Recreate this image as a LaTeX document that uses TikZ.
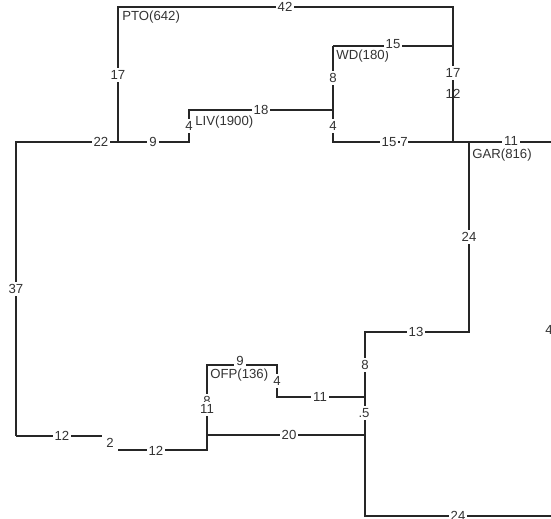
\documentclass[tikz,border=0pt]{standalone}
\usepackage{fontspec}
\setmainfont{Liberation Sans}
\usetikzlibrary{positioning}

\tikzset{
  wire/.style={line width=0.6pt, black!85},
  lenlbl/.style={fill=white, inner sep=1.2pt, text=black!80, font=\fontsize{7.5}{8}\selectfont},
  roomlbl/.style={anchor=west, inner sep=0pt, text=black!80, font=\fontsize{7.5}{8}\selectfont},
}

\begin{document}
\begin{tikzpicture}[x=0.02cm, y=-0.02cm]
    \useasboundingbox (0,0) rectangle (551,519);

    % Junctions
    \coordinate (ptoTL) at (118,7);
    \coordinate (ptoTR) at (453,7);
    \coordinate (ptoB) at (118,142);
    \coordinate (westT) at (16,142);
    \coordinate (westB) at (16,436);
    \coordinate (livB) at (189,142);
    \coordinate (livT) at (189,110);
    \coordinate (wdM) at (333,110);
    \coordinate (wdT) at (333,46);
    \coordinate (wdB) at (333,142);
    \coordinate (wdR) at (453,46);
    \coordinate (hub) at (453,142);
    \coordinate (garL) at (469,142);
    \coordinate (garR) at (551,142);
    \coordinate (garB) at (469,332);
    \coordinate (ofpT) at (365,332);
    \coordinate (ofpJa) at (365,397);
    \coordinate (ofpJb) at (365,435);
    \coordinate (ofpB) at (365,516);
    \coordinate (eastB) at (551,516);
    \coordinate (ofpA) at (277,397);
    \coordinate (ofpC) at (277,365);
    \coordinate (ofpD) at (207,365);
    \coordinate (ofpE) at (207,435);
    \coordinate (ofpF) at (207,450);
    \coordinate (stepT) at (112,436);
    \coordinate (stepB) at (112,450);

    % Wires
    \draw[wire] (ptoB) -- (ptoTL) -- (ptoTR) -- (hub);
    \draw[wire] (westB) -- (westT) -- (livB) -- (livT) -- (wdM);
    \draw[wire] (wdT) -- (wdB) -- (hub) -- (garR);
    \draw[wire] (wdT) -- (wdR);
    \draw[wire] (garL) -- (garB) -- (ofpT) -- (ofpB) -- (eastB);
    \draw[wire] (ofpJa) -- (ofpA) -- (ofpC) -- (ofpD) -- (ofpF) -- (stepB) -- (stepT) -- (westB);
    \draw[wire] (ofpE) -- (ofpJb);

    % Rooms
    \node[roomlbl] (pto) at (122,17) {PTO(642)};
    \node[roomlbl] (liv) at (195,122) {LIV(1900)};
    \node[roomlbl] (wd) at (336,56) {WD(180)};
    \node[roomlbl] (gar) at (472,155) {GAR(816)};
    \node[roomlbl] (ofp) at (210,375) {OFP(136)};

    % Lengths
    \node[lenlbl] (l42) at (285,7) {42};
    \node[lenlbl] (l17a) at (118,75) {17};
    \node[lenlbl] (l22) at (101,142) {22};
    \node[lenlbl] (l9a) at (153,142) {9};
    \node[lenlbl] (l4a) at (189,126) {4};
    \node[lenlbl] (l18) at (261,110) {18};
    \node[lenlbl] (l8a) at (333,78) {8};
    \node[lenlbl] (l4b) at (333,126) {4};
    \node[lenlbl] (l15a) at (393,44) {15};
    \node[lenlbl] (l17b) at (453,73) {17};
    \node[lenlbl, fill=none] (l12a) at (453,94) {12};
    \node[lenlbl] (l15b) at (389,142) {15};
    \node[lenlbl, inner sep=0.3pt] (l7) at (404,142) {7};
    \node[lenlbl] (l11a) at (511,141) {11};
    \node[lenlbl] (l24a) at (469,237) {24};
    \node[lenlbl] (l4c) at (549,330) {4};
    \node[lenlbl] (l13) at (416,332) {13};
    \node[lenlbl] (l8b) at (365,365) {8};
    \node[lenlbl] (l5) at (364,413) {.5};
    \node[lenlbl] (l11b) at (320,397) {11};
    \node[lenlbl] (l4d) at (277,381) {4};
    \node[lenlbl] (l9b) at (240,361) {9};
    \node[lenlbl] (l8c) at (207,401) {8};
    \node[lenlbl] (l11c) at (207,409) {11};
    \node[lenlbl] (l20) at (289,435) {20};
    \node[lenlbl] (l12b) at (62,436) {12};
    \node[lenlbl, inner sep=2.4pt] (l2) at (110,443) {2};
    \node[lenlbl] (l12c) at (156,451) {12};
    \node[lenlbl] (l37) at (16,289) {37};
    \node[lenlbl] (l24b) at (458,516) {24};
\end{tikzpicture}
\end{document}
